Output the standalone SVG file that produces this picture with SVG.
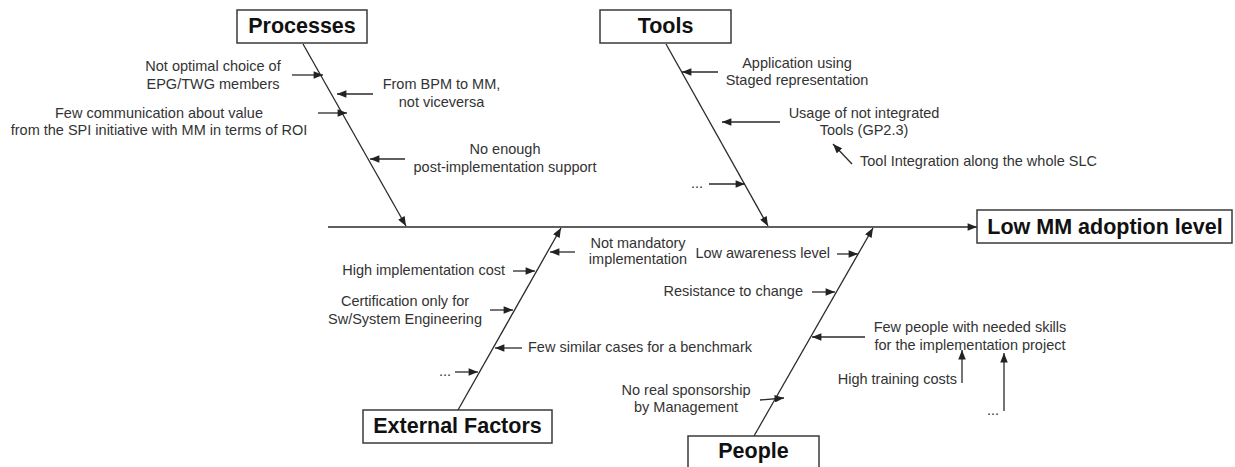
<svg xmlns="http://www.w3.org/2000/svg" width="1235" height="467" viewBox="0 0 1235 467">
<defs>
<marker id="ah" viewBox="0 0 10 8" refX="10" refY="4" markerWidth="10" markerHeight="7.5" markerUnits="userSpaceOnUse" orient="auto">
<path d="M0,0 L10,4 L0,8 z" fill="#222"/>
</marker>
<style>
.ln{stroke:#2a2a2a;stroke-width:1.3;fill:none;marker-end:url(#ah)}
.box{fill:#fff;stroke:#3a3a3a;stroke-width:1.5}
.hd{font-family:"Liberation Sans",Arial,sans-serif;font-weight:bold;font-size:21.5px;fill:#111;text-anchor:middle}
.t{font-family:"Liberation Sans",Arial,sans-serif;font-size:14.5px;fill:#333}
.m{text-anchor:middle}
.e{text-anchor:end}
</style>
</defs>
<rect width="1235" height="467" fill="#fff"/>
<g id="connectors">
<path class="ln" d="M328,227 L977,227"/>
<path class="ln" d="M303,44 L406,226"/>
<path class="ln" d="M666,44 L768,226"/>
<path class="ln" d="M458,410 L561,228"/>
<path class="ln" d="M754,436 L873,228"/>
<path class="ln" d="M292,75 L323,75"/>
<path class="ln" d="M373,94 L337,94"/>
<path class="ln" d="M318,113 L347,113"/>
<path class="ln" d="M405,159 L370,159"/>
<path class="ln" d="M718,72 L682,72"/>
<path class="ln" d="M780,122 L722,122"/>
<path class="ln" d="M852,164 L833,144"/>
<path class="ln" d="M709,184 L745,184"/>
<path class="ln" d="M575,252 L550,252"/>
<path class="ln" d="M513,271 L535,271"/>
<path class="ln" d="M490,310 L513,310"/>
<path class="ln" d="M522,348 L495,348"/>
<path class="ln" d="M455,372 L478,372"/>
<path class="ln" d="M837,254 L858,254"/>
<path class="ln" d="M812,292 L835,292"/>
<path class="ln" d="M865,337 L812,337"/>
<path class="ln" d="M962,383 L962,350"/>
<path class="ln" d="M1004,411 L1004,353"/>
<path class="ln" d="M760,400 L784,398"/>
</g>
<g id="processes"><rect class="box" x="237" y="10" width="130" height="33"/><text class="hd" x="302" y="33">Processes</text></g>
<g id="tools"><rect class="box" x="600" y="10" width="131" height="33"/><text class="hd" x="665.5" y="33">Tools</text></g>
<g id="effect"><rect class="box" x="977" y="210" width="255" height="33"/><text class="hd" x="1105" y="233.5">Low MM adoption level</text></g>
<g id="external"><rect class="box" x="363" y="410" width="189" height="33"/><text class="hd" x="457.5" y="432.5">External Factors</text></g>
<g id="people"><rect class="box" x="688" y="436" width="131" height="36"/><text class="hd" x="753.5" y="458">People</text></g>
<g id="p-cause1"><text class="t m" x="213" y="70.5">Not optimal choice of</text><text class="t m" x="213" y="88.5">EPG/TWG members</text></g>
<g id="p-cause2"><text class="t m" x="441.5" y="89">From BPM to MM,</text><text class="t m" x="441.5" y="106.5">not viceversa</text></g>
<g id="p-cause3"><text class="t m" x="159" y="117.5">Few communication about value</text><text class="t m" x="159" y="135">from the SPI initiative with MM in terms of ROI</text></g>
<g id="p-cause4"><text class="t m" x="505" y="154">No enough</text><text class="t m" x="505" y="171.5">post-implementation support</text></g>
<g id="t-cause1"><text class="t m" x="797" y="67.5">Application using</text><text class="t m" x="797" y="85">Staged representation</text></g>
<g id="t-cause2"><text class="t m" x="864" y="117.5">Usage of not integrated</text><text class="t m" x="864" y="134.5">Tools (GP2.3)</text></g>
<g id="t-cause3"><text class="t" x="860" y="166">Tool Integration along the whole SLC</text></g>
<g id="t-cause4"><text class="t e" x="703" y="188">...</text></g>
<g id="e-cause1"><text class="t m" x="638" y="247.5">Not mandatory</text><text class="t m" x="638" y="263.5">implementation</text></g>
<g id="e-cause2"><text class="t e" x="505" y="274.5">High implementation cost</text></g>
<g id="e-cause3"><text class="t m" x="405" y="306">Certification only for</text><text class="t m" x="405" y="324">Sw/System Engineering</text></g>
<g id="e-cause4"><text class="t" x="528" y="351.5">Few similar cases for a benchmark</text></g>
<g id="e-cause5"><text class="t e" x="451" y="376">...</text></g>
<g id="pe-cause1"><text class="t e" x="830" y="257.5">Low awareness level</text></g>
<g id="pe-cause2"><text class="t e" x="803" y="296">Resistance to change</text></g>
<g id="pe-cause3"><text class="t m" x="970" y="332">Few people with needed skills</text><text class="t m" x="970" y="349.5">for the implementation project</text></g>
<g id="pe-cause4"><text class="t e" x="957" y="384">High training costs</text></g>
<g id="pe-cause5"><text class="t m" x="993" y="415">...</text></g>
<g id="pe-cause6"><text class="t m" x="686" y="395">No real sponsorship</text><text class="t m" x="686" y="412">by Management</text></g>
</svg>
